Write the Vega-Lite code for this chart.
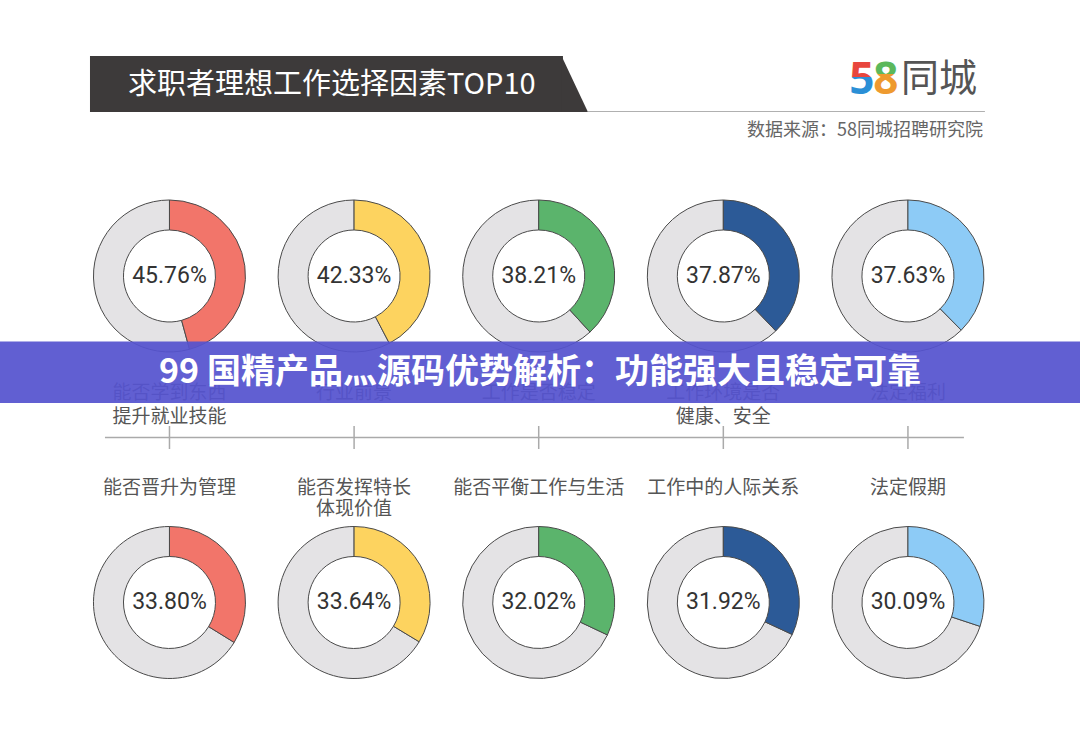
{
  "$schema": "https://vega.github.io/schema/vega-lite/v6.json",
  "width": 1080,
  "height": 744,
  "padding": 0,
  "autosize": {"type": "fit", "contains": "padding"},
  "background": "#ffffff",
  "config": {"view": {"stroke": null}},
  "data": {
    "values": [
      {"rank": 1, "factor": "能否学到东西\n提升就业技能", "pct": 45.76},
      {"rank": 2, "factor": "行业前景", "pct": 42.33},
      {"rank": 3, "factor": "工作是否稳定", "pct": 38.21},
      {"rank": 4, "factor": "工作环境是否\n健康、安全", "pct": 37.87},
      {"rank": 5, "factor": "法定福利", "pct": 37.63},
      {"rank": 6, "factor": "能否晋升为管理", "pct": 33.80},
      {"rank": 7, "factor": "能否发挥特长\n体现价值", "pct": 33.64},
      {"rank": 8, "factor": "能否平衡工作与生活", "pct": 32.02},
      {"rank": 9, "factor": "工作中的人际关系", "pct": 31.92},
      {"rank": 10, "factor": "法定假期", "pct": 30.09}
    ]
  },
  "transform": [
    {"calculate": "(datum.rank - 1) % 5", "as": "col"},
    {"calculate": "floor((datum.rank - 1) / 5)", "as": "row"},
    {"calculate": "format(datum.pct, '.2f') + '%'", "as": "pctLabel"}
  ],
  "encoding": {
    "x": {"type": "quantitative", "scale": {"domain": [-0.918, 4.932], "nice": false, "zero": false}, "axis": null},
    "y": {"type": "quantitative", "scale": {"domain": [-0.8453, 1.4334], "nice": false, "zero": false, "reverse": true}, "axis": null}
  },
  "layer": [
    {
      "mark": {"type": "arc", "innerRadius": 46, "outerRadius": 76, "stroke": "#4a4a4a", "strokeWidth": 1, "fill": "#e4e3e5"},
      "encoding": {
        "x": {"field": "col", "type": "quantitative"},
        "y": {"field": "row", "type": "quantitative"},
        "theta": {"field": "pct", "type": "quantitative", "stack": null, "scale": {"domain": [0, 100], "range": [0, 6.283185]}},
        "theta2": {"datum": 100}
      }
    },
    {
      "mark": {"type": "arc", "innerRadius": 46, "outerRadius": 76, "stroke": "#4a4a4a", "strokeWidth": 1},
      "encoding": {
        "x": {"field": "col", "type": "quantitative"},
        "y": {"field": "row", "type": "quantitative"},
        "theta": {"field": "pct", "type": "quantitative", "stack": null},
        "theta2": {"datum": 0},
        "color": {"field": "col", "type": "nominal", "scale": {"domain": [0, 1, 2, 3, 4], "range": ["#F2756A", "#FDD35F", "#5BB46C", "#2C5A97", "#8DCBF6"]}, "legend": null}
      }
    },
    {
      "mark": {"type": "text", "font": "Roboto", "fontSize": 23, "color": "#333333", "baseline": "middle", "align": "center"},
      "encoding": {
        "x": {"field": "col", "type": "quantitative"},
        "y": {"field": "row", "type": "quantitative"},
        "text": {"field": "pctLabel"}
      }
    },
    {
      "transform": [{"filter": "datum.row == 0"}],
      "mark": {"type": "text", "font": "Noto Sans CJK SC", "fontSize": 19, "color": "#555555", "baseline": "middle", "align": "center", "dy": 117, "lineBreak": "\n", "lineHeight": 24},
      "encoding": {
        "x": {"field": "col", "type": "quantitative"},
        "y": {"field": "row", "type": "quantitative"},
        "text": {"field": "factor"}
      }
    },
    {
      "transform": [{"filter": "datum.row == 1"}],
      "mark": {"type": "text", "font": "Noto Sans CJK SC", "fontSize": 19, "color": "#555555", "baseline": "middle", "align": "center", "dy": -114, "lineBreak": "\n", "lineHeight": 21},
      "encoding": {
        "x": {"field": "col", "type": "quantitative"},
        "y": {"field": "row", "type": "quantitative"},
        "text": {"field": "factor"}
      }
    },
    {
      "data": {"values": [{}]},
      "mark": {"type": "rule", "color": "#aaaaaa", "strokeWidth": 1.5},
      "encoding": {
        "x": {"datum": -0.3494},
        "x2": {"datum": 4.3033},
        "y": {"datum": 0.4946}
      }
    },
    {
      "transform": [{"filter": "datum.row == 0"}],
      "mark": {"type": "rule", "color": "#aaaaaa", "strokeWidth": 1.5},
      "encoding": {
        "x": {"field": "col", "type": "quantitative"},
        "y": {"datum": 0.4594},
        "y2": {"datum": 0.5299}
      }
    },
    {
      "data": {"values": [{}]},
      "mark": {"type": "rect", "color": "#3d3a3a"},
      "encoding": {
        "x": {"datum": -0.4306},
        "x2": {"datum": 2.1313},
        "y": {"datum": -0.6738},
        "y2": {"datum": -0.5023}
      }
    },
    {
      "data": {"values": [{}]},
      "mark": {"type": "point", "shape": "M-0.05,-1L0.893,1L-0.05,1Z", "size": 3136, "filled": true, "color": "#3d3a3a", "opacity": 1, "strokeWidth": 0},
      "encoding": {
        "x": {"datum": 2.1313},
        "y": {"datum": -0.5881}
      }
    },
    {
      "data": {"values": [{}]},
      "mark": {"type": "rule", "color": "#b0b0b0", "strokeWidth": 1},
      "encoding": {
        "x": {"datum": 2.2667},
        "x2": {"datum": 4.417},
        "y": {"datum": -0.5038}
      }
    },
    {
      "data": {"values": [{"t": "求职者理想工作选择因素TOP10"}]},
      "mark": {"type": "text", "font": "Noto Sans CJK SC", "fontSize": 29, "color": "#ffffff", "align": "left", "baseline": "middle"},
      "encoding": {
        "x": {"datum": -0.2248},
        "y": {"datum": -0.585},
        "text": {"field": "t"}
      }
    },
    {
      "data": {"values": [{"t": "5"}]},
      "mark": {"type": "text", "font": "Noto Sans", "fontWeight": "bold", "fontSize": 44, "align": "center", "baseline": "middle",
        "color": {"gradient": "linear", "x1": 0, "y1": 0, "x2": 0, "y2": 1, "stops": [{"offset": 0, "color": "#e8463d"}, {"offset": 0.5, "color": "#e8463d"}, {"offset": 0.5, "color": "#2b8fd6"}, {"offset": 1, "color": "#2b8fd6"}]}},
      "encoding": {
        "x": {"datum": 3.7508},
        "y": {"datum": -0.5972},
        "text": {"field": "t"}
      }
    },
    {
      "data": {"values": [{"t": "8"}]},
      "mark": {"type": "text", "font": "Noto Sans", "fontWeight": "bold", "fontSize": 44, "align": "center", "baseline": "middle",
        "color": {"gradient": "linear", "x1": 0, "y1": 0, "x2": 0, "y2": 1, "stops": [{"offset": 0, "color": "#5cb85c"}, {"offset": 0.45, "color": "#5cb85c"}, {"offset": 0.45, "color": "#ee9a2f"}, {"offset": 1, "color": "#ee9a2f"}]}},
      "encoding": {
        "x": {"datum": 3.8808},
        "y": {"datum": -0.5972},
        "text": {"field": "t"}
      }
    },
    {
      "data": {"values": [{"t": "同城"}]},
      "mark": {"type": "text", "font": "Noto Sans CJK SC", "fontSize": 38, "color": "#555555", "align": "right", "baseline": "middle"},
      "encoding": {
        "x": {"datum": 4.3738},
        "y": {"datum": -0.6003},
        "text": {"field": "t"}
      }
    },
    {
      "data": {"values": [{"t": "数据来源：58同城招聘研究院"}]},
      "mark": {"type": "text", "font": "Noto Sans CJK SC", "fontSize": 18, "color": "#666666", "align": "right", "baseline": "middle"},
      "encoding": {
        "x": {"datum": 4.4063},
        "y": {"datum": -0.4441},
        "text": {"field": "t"}
      }
    },
    {
      "data": {"values": [{}]},
      "mark": {"type": "rect", "color": "#5553cf", "opacity": 0.93},
      "encoding": {
        "x": {"datum": -0.918},
        "x2": {"datum": 4.932},
        "y": {"datum": 0.2006},
        "y2": {"datum": 0.389}
      }
    },
    {
      "data": {"values": [{"t": "99 国精产品灬源码优势解析：功能强大且稳定可靠"}]},
      "mark": {"type": "text", "font": "Noto Sans CJK SC", "fontWeight": "bold", "fontSize": 34, "color": "#ffffff", "align": "center", "baseline": "middle"},
      "encoding": {
        "x": {"datum": 2.0068},
        "y": {"datum": 0.2956},
        "text": {"field": "t"}
      }
    }
  ]
}
